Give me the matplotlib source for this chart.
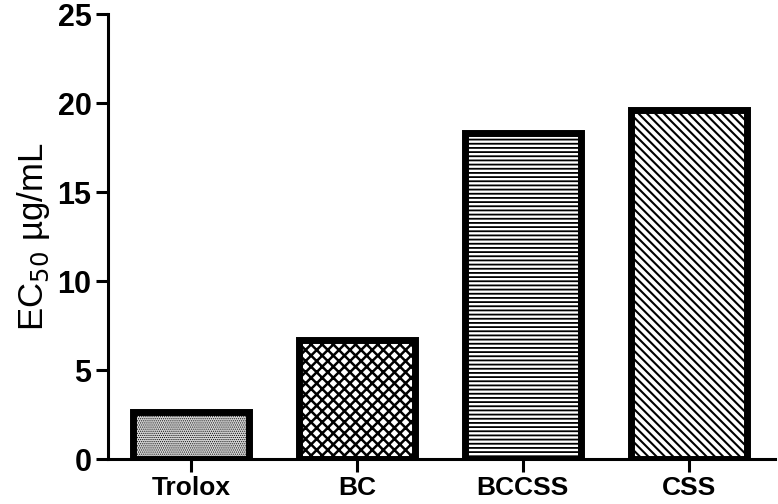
import matplotlib
matplotlib.use("Agg")
import matplotlib.pyplot as plt

samples = ["Trolox", "BC", "BCCSS", "CSS"]
ec50 = [2.67, 6.7, 18.3, 19.6]
hatches = ["........", "xxx", "----", "\\\\\\\\"]
faces = ["#d4d4d4", "white", "white", "white"]
hatch_widths = [0.5, 1.8, 1.3, 1.5]

plt.rcParams["font.family"] = ["Liberation Sans", "DejaVu Sans"]

fig = plt.figure(figsize=(7.78, 5.04), dpi=100)
ax = fig.add_axes([0.139, 0.089, 0.857, 0.883])

for i, name in enumerate(samples):
    with plt.rc_context({"hatch.linewidth": hatch_widths[i]}):
        bars = ax.bar(i, ec50[i], width=0.7, color=faces[i],
                      edgecolor="black", linewidth=5, hatch=hatches[i])
    for b in bars:
        if hasattr(b, "set_hatch_linewidth"):
            b.set_hatch_linewidth(hatch_widths[i])

ax.set_xlim(-0.5, 3.52)
ax.set_ylim(0, 25)
ax.set_yticks([0, 5, 10, 15, 20, 25])
ax.set_xticks(range(len(samples)))
ax.set_xticklabels(samples, fontsize=19, fontweight="bold")
for lbl in ax.get_yticklabels():
    lbl.set_fontsize(22)
    lbl.set_fontweight("bold")

ax.set_ylabel("EC$_{50}$ µg/mL", fontsize=25, labelpad=4)

ax.spines["top"].set_visible(False)
ax.spines["right"].set_visible(False)
ax.spines["left"].set_linewidth(2.2)
ax.spines["bottom"].set_linewidth(2.2)
ax.tick_params(axis="both", width=2.2, length=9, pad=3)

fig.savefig("out.png", dpi=100)
